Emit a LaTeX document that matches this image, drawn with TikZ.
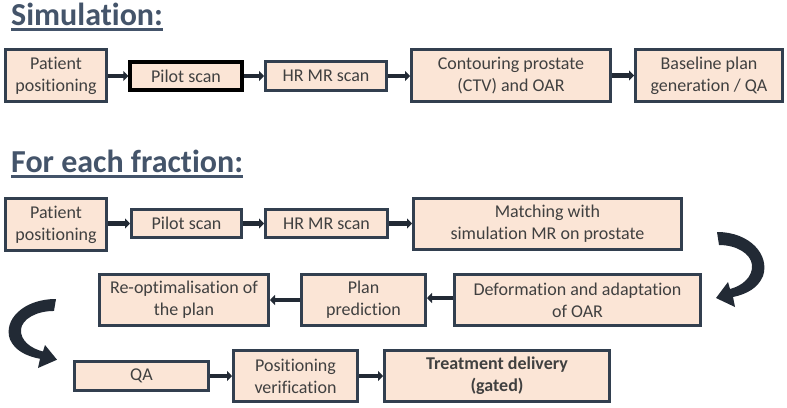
\documentclass[tikz,border=0pt]{standalone}
\usepackage{fontspec}
\setmainfont[RawFeature={-liga;-clig;-dlig;-calt}]{Carlito}
\usetikzlibrary{arrows.meta}
\definecolor{boxfill}{HTML}{FBE5D6}
\definecolor{boxline}{HTML}{323F4F}
\definecolor{arrowdark}{HTML}{222A35}
\definecolor{titlecol}{HTML}{44546A}
\definecolor{txt}{HTML}{404040}
\tikzset{
  stepbox/.style={draw=boxline, line width=3pt, fill=boxfill, text=txt, align=center, inner sep=1pt,
    font=\fontsize{18}{22}\selectfont},
  flow/.style={draw=arrowdark, line width=4.5pt, -{Triangle[length=5pt,width=10pt]}},
  titletext/.style={text=titlecol, inner sep=0pt, font=\fontsize{32}{38}\selectfont\bfseries},
  uline/.style={draw=titlecol, line width=2.5pt},
  bendfill/.style={fill=arrowdark}
}
\begin{document}
\begin{tikzpicture}[x=1pt,y=-1pt]
\useasboundingbox[fill=white] (0,0) rectangle (787,407);

% titles
\node[titletext, anchor=base west] (t1) at (11,25) {Simulation:};
\draw[uline] ([yshift=-4.5pt]t1.base west) -- ([yshift=-4.5pt]t1.base east);
\node[titletext, anchor=base west] (t2) at (11,172) {For each fraction:};
\draw[uline] ([yshift=-4.5pt]t2.base west) -- ([yshift=-4.5pt]t2.base east);

% simulation row
\node[stepbox, minimum width=101pt, minimum height=52pt] (s1) at (56,75.5) {Patient\\positioning};
\node[stepbox, draw=black, line width=3.5pt, minimum width=112pt, minimum height=28pt] (s2) at (186,76) {Pilot scan};
\node[stepbox, minimum width=121pt, minimum height=29pt] (s3) at (326,76) {HR MR scan};
\node[stepbox, minimum width=199pt, minimum height=52pt] (s4) at (511,75.5) {Contouring prostate\\(CTV) and OAR};
\node[stepbox, minimum width=147pt, minimum height=52pt] (s5) at (709,75.5) {Baseline plan\\generation / QA};

\draw[flow] (s1.east |- s2.west) -- (s2.west);
\draw[flow] (s2.east) -- (s3.west);
\draw[flow] (s3.east) -- (s3.east -| s4.west);
\draw[flow] (s4.east) -- (s5.west);

% fraction rows
\node[stepbox, minimum width=101pt, minimum height=52pt] (f1) at (56,224.5) {Patient\\positioning};
\node[stepbox, minimum width=110pt, minimum height=28pt] (f2) at (186.5,223.5) {Pilot scan};
\node[stepbox, minimum width=122pt, minimum height=28pt] (f3) at (326.5,223.5) {HR MR scan};
\node[stepbox, minimum width=268pt, minimum height=51pt] (f4) at (547.5,224) {Matching with\\simulation MR on prostate};

\node[stepbox, minimum width=246pt, minimum height=51pt] (f5) at (577.5,300) {Deformation and adaptation\\of OAR};
\node[stepbox, minimum width=124pt, minimum height=51pt] (f6) at (363.5,300) {Plan\\prediction};
\node[stepbox, minimum width=169pt, minimum height=51pt] (f7) at (184,300) {Re-optimalisation of\\the plan};

\node[stepbox, minimum width=134pt, minimum height=29pt] (f8) at (141.5,376) {QA};
\node[stepbox, minimum width=124pt, minimum height=51pt] (f9) at (295.5,376) {Positioning\\verification};
\node[stepbox, minimum width=225pt, minimum height=51pt] (f10) at (497,376) {\bfseries Treatment delivery\\\bfseries (gated)};

\draw[flow] (f2.west -| f1.east) -- (f2.west);
\draw[flow] (f2.east) -- (f3.west);
\draw[flow] (f3.east) -- (f3.east -| f4.west);
\draw[flow] (f5.west |- 0,298) -- (f6.east |- 0,298);
\draw[flow] (f6.west) -- (f7.east);
\draw[flow] (f8.east) -- (f9.west);
\draw[flow] (f9.east) -- (f10.west);

% curved arrows
\fill[bendfill, shift={(717,232)}]
  (0,0) .. controls (33,0) and (53,23) .. (46,44)
  .. controls (41,56) and (30,62) .. (16,65) -- (18,75) -- (-1,66) -- (11,50) -- (13,57)
  .. controls (25,54) and (36,45) .. (35,33)
  .. controls (34,22) and (20,13) .. (2,13) -- cycle;
\fill[bendfill, shift={(56,299)}, xscale=-1, yscale=0.92]
  (0,0) .. controls (33,0) and (53,23) .. (46,44)
  .. controls (41,56) and (30,62) .. (16,65) -- (18,75) -- (-1,66) -- (11,50) -- (13,57)
  .. controls (25,54) and (36,45) .. (35,33)
  .. controls (34,22) and (20,13) .. (2,13) -- cycle;
\end{tikzpicture}
\end{document}
